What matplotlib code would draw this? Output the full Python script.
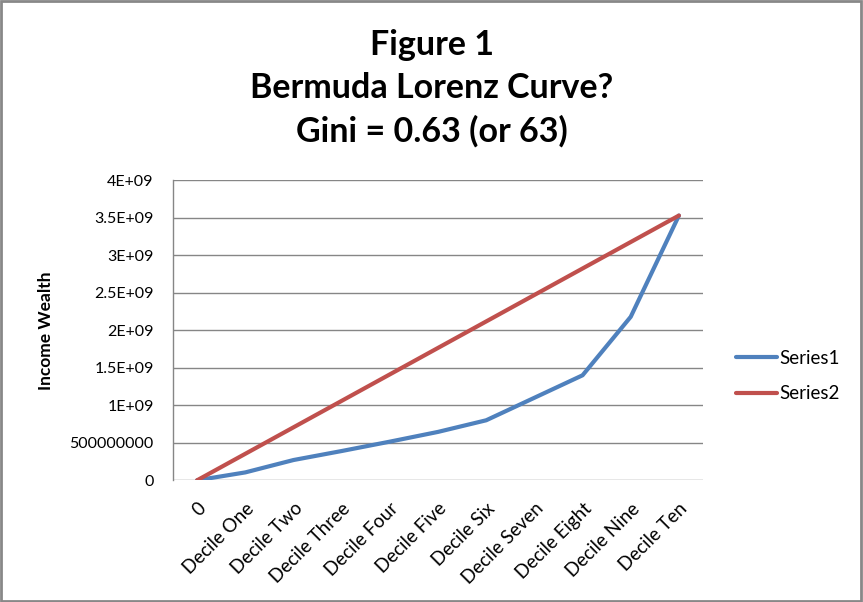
import matplotlib
matplotlib.use("Agg")
import matplotlib.pyplot as plt
from matplotlib.patches import Rectangle

plt.rcParams['font.family'] = ['Lato', 'DejaVu Sans']

categories = ["0", "Decile One", "Decile Two", "Decile Three", "Decile Four",
              "Decile Five", "Decile Six", "Decile Seven", "Decile Eight",
              "Decile Nine", "Decile Ten"]
series1 = [0, 1.05e8, 2.7e8, 3.9e8, 5.15e8, 6.45e8, 8.0e8, 1.10e9, 1.40e9,
           2.18e9, 3.53e9]
series2 = [0, 3.53e8, 7.06e8, 1.059e9, 1.412e9, 1.765e9, 2.118e9, 2.471e9,
           2.824e9, 3.177e9, 3.53e9]
yticks = [0, 5e8, 1e9, 1.5e9, 2e9, 2.5e9, 3e9, 3.5e9, 4e9]
ytick_labels = ["0", "500000000", "1E+09", "1.5E+09", "2E+09", "2.5E+09",
                "3E+09", "3.5E+09", "4E+09"]

blue = "#4F81BD"
red = "#C0504D"
grid = "#868686"

fig = plt.figure(figsize=(8.63, 6.02), dpi=100)
ax = fig.add_axes([0.2005, 0.2022, 0.6141, 0.4983])

x = list(range(len(categories)))
ax.plot(x, series1, color=blue, lw=3.0, label="Series1", solid_capstyle="round")
ax.plot(x, series2, color=red, lw=3.0, label="Series2", solid_capstyle="round")

ax.set_xlim(-0.5, len(categories) - 0.5)
ax.set_ylim(0, 4e9)
ax.set_yticks(yticks)
ax.set_yticklabels(ytick_labels, fontsize=11.5)
ax.set_xticks(x)
ax.set_xticklabels(categories, fontsize=13.5, rotation=45, ha="right",
                   rotation_mode="anchor")
ax.tick_params(axis="y", length=0, pad=14)
ax.tick_params(axis="x", length=0, pad=14)

ax.grid(axis="y", color=grid, lw=1.0)
ax.set_axisbelow(True)
for side in ["top", "right", "bottom"]:
    ax.spines[side].set_visible(False)
ax.spines["left"].set_color(grid)
ax.spines["left"].set_linewidth(1.0)

ax.set_ylabel("Income Wealth", fontsize=12.5, fontweight="bold")
ax.yaxis.set_label_coords(-0.225, 0.5)

fig.text(0.5, 1 - 45 / 602, "Figure 1", ha="center", va="center",
         fontsize=24.5, fontweight="bold")
fig.text(0.5, 1 - 88 / 602, "Bermuda Lorenz Curve?", ha="center", va="center",
         fontsize=24.5, fontweight="bold")
fig.text(0.5, 1 - 131 / 602, "Gini = 0.63 (or 63)", ha="center", va="center",
         fontsize=24.5, fontweight="bold")

leg = fig.legend(loc="center left", bbox_to_anchor=(0.833, 1 - 376 / 602),
                 frameon=False, fontsize=13.5, handlelength=2.2,
                 handletextpad=0.1, labelspacing=1.0)

fig.patches.append(Rectangle((0.001, 0.001), 0.997, 0.997,
                             transform=fig.transFigure, fill=False,
                             edgecolor="#888888", lw=2))

fig.savefig("out.png", dpi=100)
